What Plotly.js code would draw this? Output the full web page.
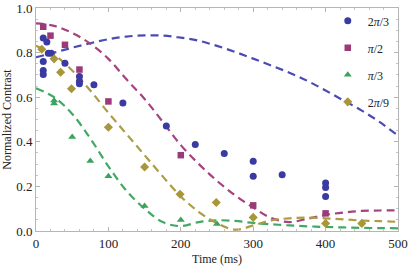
<!DOCTYPE html>
<html><head><meta charset="utf-8">
<script src="https://cdn.plot.ly/plotly-3.0.1.min.js"></script>
<style>html,body{margin:0;padding:0;background:#fff}#c{width:409px;height:267px}</style>
</head><body><div id="c"></div>
<script>
// Measured points
const t23 = [10, 15, 10, 10, 10, 17, 21, 40, 60, 60, 60, 80, 120, 180, 220, 260, 300, 300, 340, 400, 400, 400];
const c23 = [0.865, 0.848, 0.760, 0.720, 0.702, 0.797, 0.797, 0.752, 0.693, 0.672, 0.660, 0.656, 0.574, 0.471, 0.388, 0.347, 0.313, 0.245, 0.252, 0.215, 0.195, 0.155];
const t12 = [10, 20, 40, 60, 100, 200, 300, 400];
const c12 = [0.916, 0.876, 0.835, 0.724, 0.581, 0.340, 0.115, 0.079];
const t13 = [25, 25, 50, 75, 100, 150, 200, 250];
const c13 = [0.585, 0.572, 0.421, 0.314, 0.246, 0.112, 0.049, 0.031];
const t29 = [8, 25, 34, 49, 100, 150, 199, 249, 300, 400, 450];
const c29 = [0.815, 0.772, 0.712, 0.638, 0.465, 0.287, 0.165, 0.128, 0.061, 0.034, 0.034];

// Fit curves
const tf = [0, 25, 50, 75, 100, 125, 150, 175, 200, 225, 250, 275, 300, 325, 350, 375, 400, 425, 450, 475, 500];
const f23 = [0.779, 0.800, 0.822, 0.842, 0.860, 0.872, 0.877, 0.876, 0.867, 0.853, 0.830, 0.803, 0.773, 0.742, 0.710, 0.673, 0.630, 0.585, 0.540, 0.488, 0.428];
const f12 = [0.931, 0.920, 0.888, 0.840, 0.772, 0.680, 0.592, 0.490, 0.385, 0.300, 0.225, 0.160, 0.105, 0.058, 0.040, 0.055, 0.072, 0.083, 0.090, 0.092, 0.092];
const f13 = [0.640, 0.600, 0.525, 0.415, 0.290, 0.180, 0.100, 0.040, 0.022, 0.040, 0.048, 0.045, 0.036, 0.030, 0.025, 0.021, 0.018, 0.016, 0.014, 0.013, 0.012];
const f29 = [0.831, 0.790, 0.720, 0.630, 0.530, 0.435, 0.340, 0.245, 0.155, 0.085, 0.035, 0.006, 0.025, 0.048, 0.057, 0.060, 0.057, 0.052, 0.047, 0.044, 0.041];

const names = ['2<i>π</i>/3', '<i>π</i>/2', '<i>π</i>/3', '2<i>π</i>/9'];
const mcol = ['#3a3aa3', '#9a3a78', '#3aa35c', '#a8963a'];
const lcol = ['#4b4bb3', '#a5427f', '#42a965', '#ad9c42'];
const syms = ['circle', 'square', 'triangle-up', 'diamond'];
const msz = [7, 6.5, 7, 7];
const T = [t23, t12, t13, t29], C = [c23, c12, c13, c29], F = [f23, f12, f13, f29];

const SERIF = 'Liberation Serif';
const data = [];
for (let i = 0; i < 4; i++) {
  data.push({x: tf, y: F[i], type: 'scatter', mode: 'lines', line: {color: lcol[i], width: 2.2, dash: '8px,5px', shape: 'spline'}, showlegend: false, hoverinfo: 'skip'});
}
for (let i = 0; i < 4; i++) {
  data.push({x: T[i], y: C[i], type: 'scatter', mode: 'markers', name: names[i], legendgroup: 'g' + i,
    marker: {color: mcol[i], symbol: syms[i], size: msz[i]}});
}

const ax = {showline: true, linecolor: '#b5b5b5', linewidth: 1, mirror: 'ticks', ticks: 'inside', ticklen: 4, tickcolor: '#b5b5b5',
  showgrid: false, zeroline: false, tickfont: {size: 13, color: '#222'}};
const layout = {
  width: 409, height: 267, margin: {l: 36, r: 11, t: 7, b: 36},
  paper_bgcolor: '#fff', plot_bgcolor: '#fff',
  font: {family: SERIF, size: 13, color: '#222'},
  xaxis: Object.assign({}, ax, {range: [0, 500], dtick: 100, minor: {dtick: 20, ticks: 'inside', ticklen: 2, tickcolor: '#c5c5c5'},
    title: {text: 'Time (ms)', font: {family: SERIF, size: 12, color: '#222'}, standoff: 5}}),
  yaxis: Object.assign({}, ax, {range: [0, 1], dtick: 0.2, tickformat: '.1f', minor: {dtick: 0.05, ticks: 'inside', ticklen: 2, tickcolor: '#c5c5c5'},
    title: {text: 'Normalized Contrast', font: {family: SERIF, size: 12, color: '#222'}, standoff: 3}}),
  legend: {x: 0.806, y: 1.003, xanchor: 'left', yanchor: 'top', bgcolor: 'rgba(0,0,0,0)', tracegroupgap: 8,
    font: {family: SERIF, size: 12, color: '#222'}, itemwidth: 30},
  showlegend: true
};
Plotly.newPlot('c', data, layout, {displayModeBar: false, staticPlot: true});
</script></body></html>
